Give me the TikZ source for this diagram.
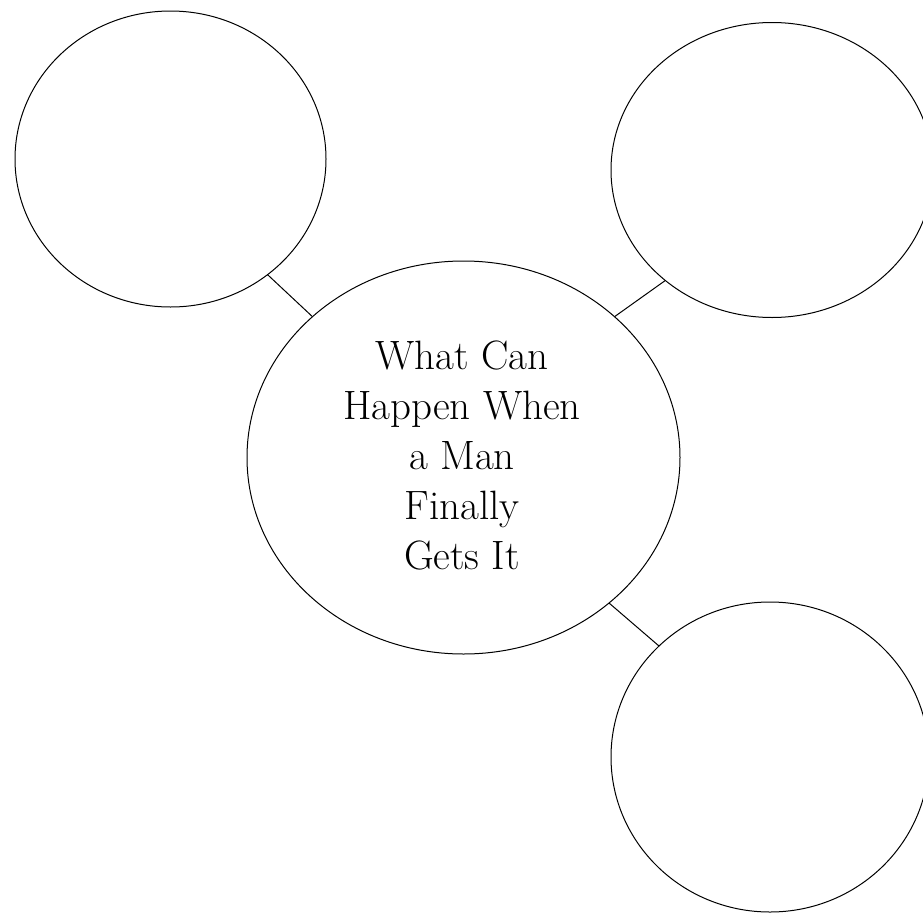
\documentclass[tikz,border=0pt]{standalone}
\usetikzlibrary{shapes.geometric}
\begin{document}
\begin{tikzpicture}[x=1pt,y=-1pt,
  bubble/.style={ellipse,draw=black,line width=1pt,inner sep=0pt,outer sep=0pt},
  link/.style={draw=black,line width=1pt},
  title/.style={align=center,inner sep=0pt,font={\fontsize{41}{50}\selectfont}}]
\useasboundingbox (0,0) rectangle (923,913);
\node[bubble,minimum width=311pt,minimum height=296pt] (tl) at (170.5,159) {};
\node[bubble,minimum width=322pt,minimum height=295pt] (tr) at (772,170) {};
\node[bubble,minimum width=318pt,minimum height=310pt] (br) at (770,757) {};
\node[bubble,minimum width=433pt,minimum height=393pt] (c) at (463.5,457.5) {};
\node[title] (t) at (462,455) {What Can\\Happen When\\a Man\\Finally\\Gets It};
\draw[link] (tl.310.8) -- (c.137.3);
\draw[link] (c.43.6) -- (tr.226);
\draw[link] (c.315.6) -- (br.135.5);
\end{tikzpicture}
\end{document}
